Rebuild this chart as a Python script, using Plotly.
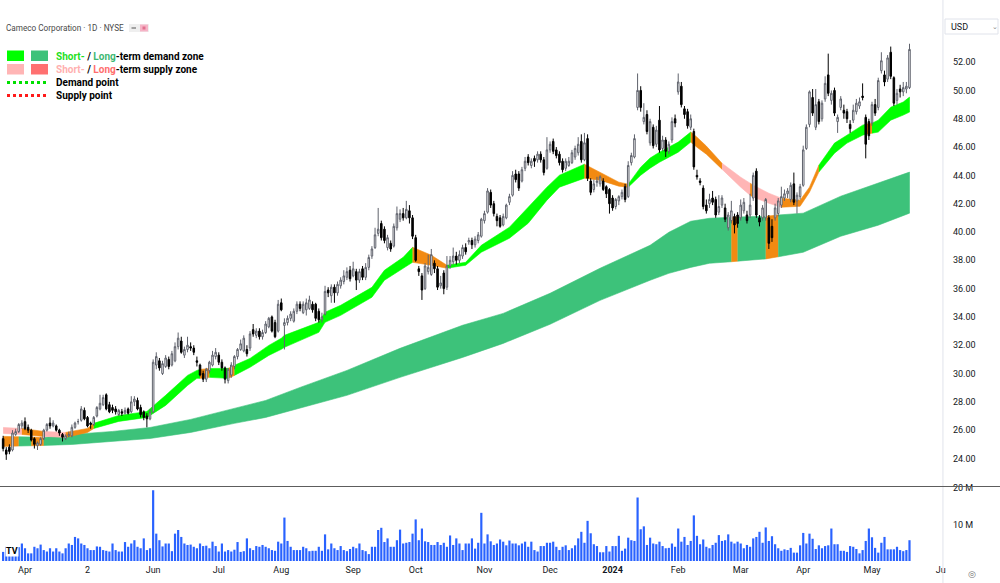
import plotly.graph_objects as go
import pandas as pd

# ---------------- data ----------------
HOLIDAYS = ["2023-04-07", "2023-05-29", "2023-06-19", "2023-07-04", "2023-09-04",
            "2023-11-23", "2023-12-25", "2024-01-01", "2024-01-15", "2024-02-19", "2024-03-29"]
DATES = [d.strftime("%Y-%m-%d") for d in pd.bdate_range("2023-03-23", "2024-05-17")
         if d.strftime("%Y-%m-%d") not in HOLIDAYS]

OPEN = [
    25.4, 24.6, 24.8, 24.6, 25.7, 25.9, 26.3, 26.6, 26.2, 26.0,
    25.4, 24.9, 25.0, 25.4, 26.0, 26.5, 26.3, 26.3, 26.0, 25.7,
    25.4, 25.6, 25.6, 26.2, 26.6, 26.7, 27.4, 26.9, 26.5, 26.4,
    27.0, 27.5, 27.8, 28.5, 27.8, 27.6, 27.5, 27.1, 27.3, 27.2,
    27.5, 27.3, 28.0, 28.1, 27.6, 27.3, 27.0, 26.8, 27.3, 30.6,
    30.9, 30.0, 30.5, 31.0, 30.6, 30.9, 31.9, 32.3, 31.3, 31.7,
    31.9, 31.8, 30.9, 30.6, 30.0, 29.6, 30.2, 30.6, 31.2, 31.3,
    30.8, 30.4, 29.5, 29.9, 30.5, 31.2, 31.7, 31.6, 31.7, 31.8,
    33.1, 32.7, 33.0, 32.6, 32.9, 33.3, 34.0, 33.6, 33.0, 35.0,
    33.4, 33.6, 33.9, 33.7, 34.4, 34.9, 34.3, 34.5, 34.6, 34.9,
    34.9, 34.4, 33.8, 34.2, 35.9, 35.5, 36.1, 35.7, 36.2, 36.5,
    36.8, 37.3, 36.9, 37.2, 36.6, 37.4, 36.8, 37.5, 38.3, 38.9,
    39.9, 40.6, 40.2, 38.9, 39.2, 39.0, 40.3, 40.9, 41.3, 41.0,
    41.5, 41.0, 39.6, 37.4, 36.9, 36.0, 37.2, 37.0, 37.8, 37.4,
    36.2, 37.1, 36.1, 37.6, 37.9, 38.3, 38.0, 38.3, 38.9, 39.3,
    39.4, 39.1, 39.4, 39.7, 40.8, 41.4, 42.8, 42.0, 41.1, 41.0,
    40.5, 41.0, 42.1, 42.6, 44.1, 44.1, 43.6, 44.5, 45.3, 44.7,
    45.2, 45.1, 45.5, 45.1, 44.5, 45.8, 46.4, 45.8, 45.5, 45.0,
    44.5, 44.7, 44.9, 45.3, 45.6, 46.4, 45.1, 46.6, 43.6, 43.0,
    43.5, 43.4, 43.6, 43.2, 43.0, 42.4, 41.8, 42.2, 42.5, 43.2,
    42.5, 44.9, 45.3, 48.8, 50.0, 47.8, 48.3, 46.3, 47.4, 46.2,
    47.9, 45.9, 46.5, 45.7, 46.5, 48.0, 49.9, 50.3, 48.7, 48.5,
    47.4, 47.1, 44.0, 43.6, 43.1, 41.9, 42.0, 42.4, 42.3, 41.4,
    41.9, 41.7, 40.3, 40.8, 41.1, 41.2, 41.0, 41.5, 41.2, 41.2,
    42.4, 44.3, 41.0, 41.0, 41.0, 41.0, 40.4, 41.0, 41.3, 41.9,
    42.4, 42.7, 42.3, 43.4, 42.2, 42.5, 43.3, 45.9, 47.6, 49.5,
    47.4, 49.2, 48.0, 49.4, 51.1, 49.3, 50.0, 47.8, 48.8, 48.6,
    48.5, 47.6, 47.9, 48.5, 48.9, 49.6, 48.1, 47.8, 47.7, 49.0,
    48.8, 51.4, 51.1, 50.8, 52.7, 50.9, 49.3, 50.1, 49.9, 50.1, 50.2,
]
HIGH = [
    25.6, 24.8, 25.0, 26.0, 26.1, 26.5, 26.7, 26.9, 26.4, 26.1,
    25.5, 25.2, 25.5, 26.1, 26.5, 26.9, 26.7, 26.4, 26.1, 25.8,
    25.7, 25.9, 26.4, 26.6, 26.8, 27.7, 27.6, 27.0, 26.6, 27.0,
    27.7, 28.5, 28.5, 28.6, 28.0, 27.8, 27.7, 27.5, 27.5, 27.6,
    27.6, 28.4, 28.4, 28.3, 27.8, 27.4, 27.2, 27.5, 31.0, 31.5,
    31.1, 30.9, 31.3, 31.2, 31.6, 32.2, 32.9, 32.6, 31.9, 32.6,
    32.2, 32.0, 31.2, 30.7, 30.2, 30.4, 30.9, 31.6, 31.8, 31.5,
    31.0, 30.5, 30.4, 30.8, 31.3, 31.8, 32.4, 32.7, 32.0, 33.0,
    33.5, 33.2, 33.2, 33.1, 33.7, 34.0, 34.1, 33.8, 35.2, 35.3,
    33.9, 34.1, 34.4, 34.6, 35.1, 35.1, 35.1, 35.3, 35.5, 35.1,
    35.0, 34.6, 34.3, 36.2, 36.1, 36.3, 36.3, 36.5, 36.8, 37.3,
    37.5, 37.6, 37.9, 37.4, 37.4, 37.6, 37.8, 38.4, 39.0, 40.3,
    41.7, 40.8, 40.4, 39.8, 39.4, 40.6, 41.8, 41.6, 41.7, 42.2,
    41.9, 41.2, 39.8, 37.6, 37.1, 37.8, 38.4, 38.8, 38.0, 37.6,
    36.9, 37.3, 38.3, 38.3, 38.9, 38.6, 38.7, 39.1, 39.2, 39.6,
    39.6, 39.7, 40.0, 41.0, 41.5, 43.1, 43.0, 42.2, 41.3, 41.2,
    41.3, 42.0, 42.7, 44.3, 44.4, 44.3, 44.6, 45.3, 45.5, 45.2,
    45.4, 45.7, 45.7, 45.3, 46.7, 46.4, 46.6, 46.0, 45.7, 45.2,
    45.2, 45.3, 45.8, 46.1, 46.7, 46.9, 47.0, 46.9, 43.8, 43.7,
    43.9, 44.0, 43.8, 43.3, 43.1, 42.6, 42.4, 42.6, 43.0, 43.4,
    45.0, 45.6, 46.9, 51.2, 50.3, 49.1, 48.6, 48.0, 47.6, 47.5,
    48.9, 46.8, 46.7, 46.4, 48.1, 48.3, 51.2, 50.6, 48.9, 48.7,
    48.3, 47.3, 44.4, 43.8, 43.3, 42.3, 42.7, 42.9, 42.5, 42.6,
    42.6, 42.0, 41.4, 42.2, 41.3, 41.4, 42.3, 42.4, 41.5, 42.7,
    44.2, 44.5, 41.2, 41.9, 42.4, 41.2, 40.9, 42.0, 42.4, 43.2,
    43.0, 43.1, 43.5, 44.2, 42.8, 43.4, 46.1, 47.6, 50.0, 50.1,
    50.1, 49.4, 49.3, 51.0, 52.6, 50.0, 50.2, 48.3, 49.6, 49.0,
    48.7, 47.9, 49.0, 49.4, 49.5, 50.5, 48.3, 48.0, 49.2, 49.4,
    50.9, 52.7, 51.4, 52.5, 53.1, 51.0, 50.1, 50.4, 50.6, 50.6, 53.3,
]
LOW = [
    24.5, 23.9, 24.3, 24.5, 25.6, 25.8, 26.1, 26.0, 25.8, 25.2,
    24.7, 24.6, 24.9, 25.3, 25.9, 26.1, 26.2, 25.9, 25.6, 25.2,
    25.3, 25.5, 25.5, 26.1, 26.4, 26.6, 26.7, 26.2, 26.1, 26.3,
    26.9, 27.4, 27.7, 27.4, 27.2, 27.2, 27.1, 27.0, 27.0, 27.1,
    27.1, 27.2, 27.7, 27.4, 26.9, 26.7, 26.2, 26.7, 27.2, 30.3,
    30.2, 29.9, 30.4, 30.3, 30.5, 30.8, 31.7, 31.4, 31.1, 31.5,
    31.6, 31.3, 30.5, 29.8, 29.4, 29.4, 30.0, 30.5, 31.0, 30.6,
    30.2, 29.3, 29.3, 29.7, 30.3, 31.0, 31.6, 31.5, 31.2, 31.6,
    32.6, 32.5, 32.4, 32.4, 32.8, 33.2, 32.9, 32.5, 32.9, 34.4,
    31.7, 33.4, 33.7, 33.6, 34.2, 34.4, 34.2, 34.1, 34.5, 34.3,
    33.7, 33.6, 33.6, 34.1, 35.4, 35.0, 35.0, 35.5, 36.0, 36.3,
    36.6, 36.5, 36.8, 35.9, 36.4, 36.6, 36.6, 37.3, 38.1, 38.8,
    39.7, 39.4, 39.2, 38.7, 38.6, 38.9, 40.1, 40.7, 40.8, 40.9,
    40.6, 39.5, 37.9, 36.9, 35.2, 35.9, 37.0, 36.9, 37.1, 35.9,
    36.0, 35.6, 35.9, 37.4, 37.7, 37.7, 37.8, 38.1, 38.4, 39.1,
    38.8, 38.9, 39.2, 39.6, 40.6, 41.3, 41.7, 41.1, 40.4, 40.3,
    40.4, 40.9, 41.9, 42.5, 43.5, 42.9, 43.5, 44.3, 44.7, 44.5,
    44.6, 44.9, 44.9, 44.0, 44.4, 45.6, 45.5, 45.2, 44.7, 44.2,
    44.3, 44.6, 44.8, 45.1, 45.4, 44.9, 45.0, 43.6, 42.6, 42.8,
    43.2, 43.2, 42.9, 42.4, 41.3, 41.5, 41.6, 41.9, 42.3, 42.1,
    42.4, 44.7, 45.2, 48.6, 48.5, 47.6, 46.9, 46.1, 45.9, 46.0,
    45.6, 45.7, 45.3, 45.5, 46.3, 47.4, 49.7, 48.8, 48.0, 47.3,
    47.2, 44.4, 43.7, 43.3, 41.6, 41.3, 41.7, 41.9, 41.0, 41.2,
    41.7, 40.7, 40.1, 40.6, 39.9, 40.3, 40.8, 41.3, 40.6, 41.0,
    42.2, 41.0, 40.4, 40.8, 40.8, 38.8, 39.3, 40.8, 41.1, 41.7,
    42.2, 42.4, 42.1, 41.9, 41.3, 42.3, 43.2, 45.8, 47.4, 48.2,
    47.2, 47.6, 47.8, 49.2, 49.6, 49.0, 48.2, 47.0, 48.6, 48.0,
    47.7, 47.0, 47.7, 48.3, 48.7, 49.3, 45.2, 46.5, 47.5, 48.2,
    48.6, 51.2, 50.3, 50.6, 50.8, 48.9, 49.0, 49.5, 49.6, 49.8, 50.1,
]
CLOSE = [
    24.7, 24.3, 24.5, 25.8, 25.9, 26.4, 26.5, 26.1, 26.0, 25.3,
    25.0, 25.1, 25.4, 26.0, 26.4, 26.3, 26.5, 26.0, 25.8, 25.5,
    25.6, 25.7, 26.2, 26.5, 26.6, 27.5, 26.8, 26.3, 26.4, 26.9,
    27.6, 27.9, 28.3, 27.5, 27.3, 27.4, 27.3, 27.4, 27.2, 27.4,
    27.2, 28.0, 28.2, 27.5, 27.1, 26.9, 26.8, 27.3, 30.8, 31.2,
    30.4, 30.7, 31.1, 30.5, 31.4, 31.9, 32.5, 31.5, 31.7, 32.0,
    31.8, 31.5, 30.8, 29.9, 29.6, 30.3, 30.8, 31.3, 31.5, 30.8,
    30.4, 29.6, 30.3, 30.6, 31.2, 31.7, 32.1, 32.5, 31.4, 32.8,
    32.8, 33.0, 32.6, 32.9, 33.5, 33.9, 33.0, 32.6, 34.9, 34.5,
    33.6, 33.9, 34.2, 34.4, 34.9, 34.6, 34.9, 35.0, 35.2, 34.5,
    33.9, 33.8, 34.0, 35.8, 35.7, 36.1, 35.7, 36.3, 36.6, 36.9,
    37.2, 36.7, 37.4, 36.6, 37.2, 36.8, 37.5, 38.2, 38.8, 39.8,
    40.2, 39.6, 39.4, 39.6, 38.8, 40.4, 41.3, 41.3, 41.0, 41.6,
    41.0, 39.7, 38.0, 37.2, 35.9, 37.6, 37.5, 38.4, 37.4, 36.1,
    36.4, 36.0, 37.6, 38.0, 38.3, 38.0, 38.4, 38.9, 38.6, 39.4,
    39.1, 39.5, 39.8, 40.9, 41.3, 42.9, 41.9, 41.3, 40.8, 40.4,
    41.1, 41.9, 42.5, 44.0, 43.7, 43.1, 44.4, 45.0, 44.9, 45.0,
    45.0, 45.5, 45.1, 44.2, 45.8, 46.2, 45.7, 45.4, 44.9, 44.4,
    45.0, 45.0, 45.6, 45.9, 46.2, 45.1, 46.3, 43.8, 42.8, 43.4,
    43.6, 43.9, 43.0, 42.7, 42.0, 41.7, 42.3, 42.5, 42.8, 42.3,
    44.7, 45.4, 46.6, 50.0, 48.8, 48.1, 47.1, 47.8, 46.1, 47.2,
    45.8, 46.5, 45.7, 46.2, 47.8, 47.7, 50.6, 49.0, 48.3, 47.5,
    48.0, 44.6, 43.9, 43.5, 41.8, 41.5, 42.3, 42.1, 41.2, 41.8,
    42.4, 40.9, 41.2, 41.5, 40.5, 40.6, 41.9, 42.1, 40.8, 41.9,
    44.0, 41.2, 40.7, 41.7, 42.3, 39.2, 39.6, 41.7, 42.2, 42.5,
    42.7, 42.9, 43.3, 42.1, 42.6, 43.2, 45.8, 47.4, 49.9, 48.4,
    49.0, 47.8, 49.1, 50.5, 49.8, 49.8, 48.4, 48.1, 49.4, 48.4,
    48.0, 47.3, 48.6, 49.1, 49.2, 49.5, 46.2, 46.8, 49.0, 48.4,
    50.7, 52.1, 50.6, 52.3, 51.0, 49.1, 49.8, 49.9, 50.2, 50.3, 52.9,
]
VOLUME_M = [
    2.5, 3.9, 3.0, 3.5, 3.0, 3.8, 4.8, 3.5, 2.1, 2.1,
    3.9, 3.5, 4.5, 3.0, 2.6, 3.5, 2.6, 3.5, 2.6, 2.1,
    3.5, 4.8, 4.4, 6.6, 6.2, 4.8, 4.4, 3.5, 3.0, 3.0,
    4.0, 3.9, 3.0, 2.8, 2.6, 4.8, 3.0, 2.6, 2.6, 5.2,
    3.9, 4.8, 5.7, 3.9, 3.5, 6.2, 3.0, 3.5, 19.4, 7.5,
    5.7, 4.0, 4.8, 4.8, 2.7, 7.5, 8.5, 6.6, 4.8, 4.4,
    4.5, 3.9, 3.5, 4.8, 4.1, 4.2, 3.5, 5.3, 4.1, 2.6,
    4.8, 2.6, 3.0, 2.6, 3.1, 5.2, 2.5, 2.7, 6.2, 3.5,
    3.0, 4.1, 3.9, 4.4, 3.9, 3.5, 3.0, 2.8, 5.3, 4.8,
    11.9, 5.5, 3.9, 3.0, 3.0, 3.0, 3.9, 3.5, 2.7, 2.8,
    2.8, 3.9, 2.8, 7.3, 3.2, 4.8, 3.5, 3.0, 4.1, 3.0,
    2.7, 3.3, 3.9, 3.5, 4.8, 3.0, 2.7, 1.9, 3.9, 3.9,
    8.5, 9.1, 5.2, 6.2, 3.9, 3.9, 5.7, 8.6, 4.8, 5.0,
    5.2, 7.5, 11.4, 5.7, 8.9, 5.4, 5.2, 4.4, 4.4, 5.2,
    4.4, 5.0, 3.9, 7.0, 4.4, 6.2, 4.8, 3.0, 4.8, 4.8,
    6.2, 3.4, 5.0, 13.2, 4.8, 7.3, 5.4, 4.4, 4.8, 5.9,
    5.3, 4.3, 5.6, 4.8, 4.8, 4.3, 4.8, 5.3, 3.9, 5.3,
    3.0, 2.6, 4.1, 4.1, 5.0, 5.0, 5.3, 3.9, 3.0, 3.9,
    4.3, 3.0, 3.5, 4.3, 6.2, 8.0, 5.0, 11.0, 7.6, 4.6,
    4.1, 2.4, 2.4, 4.1, 2.6, 4.1, 4.1, 6.9, 2.8, 3.4,
    6.4, 5.7, 5.5, 17.4, 8.7, 9.5, 4.4, 6.4, 4.8, 4.6,
    5.3, 4.1, 3.5, 3.6, 4.8, 3.9, 8.9, 5.3, 6.6, 4.4,
    5.5, 12.5, 6.9, 4.6, 5.9, 3.9, 3.5, 4.4, 5.0, 7.1,
    5.5, 5.7, 7.3, 5.3, 4.8, 5.3, 4.8, 3.5, 4.4, 3.9,
    6.2, 6.6, 8.0, 5.0, 9.2, 5.5, 6.8, 4.6, 3.5, 2.8,
    3.2, 3.0, 3.6, 2.3, 2.3, 4.3, 7.7, 4.8, 7.5, 6.1,
    3.3, 4.3, 3.5, 4.1, 4.3, 8.9, 4.6, 4.6, 2.8, 2.8,
    2.5, 4.1, 3.9, 3.3, 2.1, 3.0, 5.5, 8.9, 6.5, 3.6,
    2.3, 5.0, 6.6, 3.2, 3.2, 3.2, 3.9, 3.0, 2.7, 3.0, 5.7,
]

# Short-term zone (trading-day index, upper, lower) and its colour runs
ST_IDX = [0, 6, 13, 20, 22, 27, 29, 37, 44, 46, 52, 59, 62, 63, 66, 68, 72, 74, 79, 85,
          89, 90, 101, 103, 108, 118, 122, 128, 131, 137, 142, 148, 153, 162, 168, 174, 178,
          186, 191, 197, 200, 204, 207, 210, 216, 220, 222, 225, 230, 236, 239, 240, 245,
          249, 255, 258, 261, 266, 270, 275, 276, 278, 280, 284, 288, 290]
ST_UP = [26.19, 26.12, 25.91, 25.84, 25.91, 26.12, 26.48, 27.04, 27.25, 27.32, 28.46, 29.87,
         30.22, 30.29, 30.36, 30.36, 30.36, 30.58, 31.07, 31.99, 32.49, 32.70, 33.62, 34.33,
         34.82, 36.09, 37.30, 38.21, 38.92, 38.36, 37.65, 37.86, 39.06, 40.34, 41.75, 43.17,
         44.01, 44.79, 44.23, 43.52, 43.38, 44.58, 45.22, 45.64, 46.35, 47.06, 46.70, 46.07,
         44.86, 43.87, 43.45, 43.31, 42.74, 42.39, 42.25, 43.17, 44.72, 46.28, 46.84, 47.55,
         47.62, 47.69, 47.90, 48.82, 49.18, 49.53]
ST_LO = [25.77, 25.70, 25.56, 25.49, 25.56, 25.84, 26.12, 26.62, 26.83, 26.90, 27.75, 29.16,
         29.66, 29.66, 29.73, 29.73, 29.66, 29.87, 30.44, 31.28, 31.71, 31.85, 32.91, 33.62,
         34.11, 35.39, 36.59, 37.44, 37.86, 37.65, 37.44, 37.65, 38.57, 39.56, 40.62, 42.25,
         43.17, 43.80, 43.66, 43.24, 43.17, 44.01, 44.51, 44.93, 45.64, 46.35, 45.99, 45.50,
         44.44, 43.17, 42.60, 42.46, 42.03, 41.75, 41.82, 42.81, 44.23, 45.57, 46.28, 46.84,
         46.91, 46.98, 47.06, 47.90, 48.26, 48.47]
ST_RUNS = [(0, 6, "st_supply"), (6, 13, "orange"), (13, 20, "st_supply"), (20, 29, "orange"),
           (29, 63, "st_demand"), (63, 66, "orange"), (66, 72, "st_demand"), (72, 74, "orange"),
           (74, 131, "st_demand"), (131, 142, "orange"), (142, 186, "st_demand"),
           (186, 200, "orange"), (200, 220, "st_demand"), (220, 230, "orange"),
           (230, 239, "st_supply"), (239, 240, "orange"), (240, 249, "st_supply"),
           (249, 261, "orange"), (261, 276, "st_demand"), (276, 278, "orange"),
           (278, 290, "st_demand")]

# Long-term zone
LT_IDX = [0, 5, 9, 13, 22, 35, 47, 60, 74, 84, 95, 110, 127, 147, 160, 175, 191, 207, 213,
          220, 226, 233, 235, 244, 248, 256, 268, 280, 290]
LT_UP = [25.56, 25.53, 25.51, 25.49, 25.70, 25.91, 26.19, 26.76, 27.54, 28.10, 29.02, 30.22,
         31.78, 33.41, 34.25, 35.67, 37.44, 39.06, 39.98, 40.76, 40.97, 41.04, 41.06, 41.11,
         41.20, 41.33, 42.53, 43.45, 44.23]
LT_LO = [24.85, 24.88, 24.90, 24.92, 24.99, 25.20, 25.41, 25.84, 26.48, 26.90, 27.54, 28.46,
         29.73, 31.14, 32.13, 33.48, 35.17, 36.59, 37.08, 37.50, 37.79, 37.90, 37.94, 38.10,
         38.25, 38.57, 39.70, 40.48, 41.33]
LT_RUNS = [(0, 5, "orange"), (5, 9, "lt_demand"), (9, 13, "orange"), (13, 233, "lt_demand"),
           (233, 235, "orange"), (235, 244, "lt_demand"), (244, 248, "orange"),
           (248, 290, "lt_demand")]

TICK_DATES = ["2023-04-03", "2023-05-02", "2023-06-01", "2023-07-03", "2023-08-01",
              "2023-09-01", "2023-10-02", "2023-11-01", "2023-12-01", "2024-01-02",
              "2024-02-01", "2024-03-01", "2024-04-01", "2024-05-01"]
TICK_TEXT = ["Apr", "2", "Jun", "Jul", "Aug", "Sep", "Oct", "Nov", "Dec", "<b>2024</b>",
             "Feb", "Mar", "Apr", "May", "Ju"]
FUTURE_TICK_OFFSET = 9   # trading days after the last bar (Jun 3, 2024)
PRICE_TICKS = [24, 26, 28, 30, 32, 34, 36, 38, 40, 42, 44, 46, 48, 50, 52]

COL = {"st_demand": "#00FF00", "lt_demand": "#3DC27A", "st_supply": "#FFB5B5",
       "lt_supply": "#FF7070", "orange": "#F28A12"}

# ---------------- figure ----------------
n = min(len(DATES), len(OPEN), len(HIGH), len(LOW), len(CLOSE), len(VOLUME_M))
X = list(range(n))
PW, PH = 942.0, 563.0


def px(v):
    return v / PW


def py(v):
    return (PH - v) / PH


def band(idx, up, lo, a, b):
    sel = [k for k, v in enumerate(idx) if a <= v <= b]
    xs = [idx[k] for k in sel]
    ys = [up[k] for k in sel] + [lo[k] for k in sel][::-1]
    return xs + xs[::-1], ys


fig = go.Figure()
for idx, up, lo, runs in ((LT_IDX, LT_UP, LT_LO, LT_RUNS), (ST_IDX, ST_UP, ST_LO, ST_RUNS)):
    for a, b, c in runs:
        bx, by = band(idx, up, lo, a, b)
        fig.add_trace(go.Scatter(x=bx, y=by, mode="lines", fill="toself",
                                 fillcolor=COL[c], line=dict(color=COL[c], width=0.6),
                                 hoverinfo="skip", showlegend=False, xaxis="x", yaxis="y"))

fig.add_trace(go.Candlestick(
    x=X, open=OPEN[:n], high=HIGH[:n], low=LOW[:n], close=CLOSE[:n],
    xaxis="x", yaxis="y3", whiskerwidth=0, showlegend=False,
    increasing=dict(line=dict(color="#5f626c", width=1), fillcolor="#FFFFFF"),
    decreasing=dict(line=dict(color="#000000", width=1), fillcolor="#000000")))

fig.add_trace(go.Bar(x=X, y=VOLUME_M[:n], xaxis="x", yaxis="y2", marker_color="#2962FF",
                     marker_line_width=0, showlegend=False))

tickpos = [DATES.index(d) for d in TICK_DATES] + [n + FUTURE_TICK_OFFSET]

y_range = [24 - 28 / 14.14, 24 + 458 / 14.14]
price_dom = [py(486.5), 1]
font_axis = dict(family="Roboto", size=9, color="#131722")

fig.update_layout(
    width=1000, height=583, margin=dict(l=0, r=58, t=0, b=20, pad=0),
    paper_bgcolor="white", plot_bgcolor="white", bargap=0.3, showlegend=False,
    xaxis=dict(domain=[0, 1], range=[-1, 300.4], anchor="y2", showgrid=False, zeroline=False,
               tickvals=tickpos, ticktext=TICK_TEXT, ticks="", tickfont=font_axis,
               rangeslider=dict(visible=False), showline=False, automargin=False),
    yaxis=dict(domain=price_dom, range=y_range, side="right", showgrid=False, zeroline=False,
               tickvals=PRICE_TICKS, ticktext=["%.2f" % v for v in PRICE_TICKS],
               tickfont=font_axis, ticks="", ticklabelstandoff=10, anchor="x",
               automargin=False),
    yaxis3=dict(domain=price_dom, range=y_range, overlaying="y", visible=False, anchor="x"),
    yaxis2=dict(domain=[0, py(487.5)], range=[-2 / 3.7, 74.5 / 3.7], side="right",
                showgrid=False, zeroline=False, tickvals=[10, 20], ticktext=["10 M", "20 M"],
                tickfont=font_axis, ticks="", ticklabelstandoff=10, anchor="x",
                automargin=False),
)

shapes = [
    # pane separators
    dict(type="line", xref="paper", yref="paper", x0=1.001, x1=1.001, y0=py(583), y1=1,
         line=dict(color="#E0E3EB", width=1)),
    dict(type="line", xref="paper", yref="paper", x0=0, x1=px(1000), y0=py(486.5), y1=py(486.5),
         line=dict(color="#5D5D5D", width=1)),
    # USD box
    dict(type="rect", xref="paper", yref="paper", x0=px(945), x1=px(998), y0=py(34), y1=py(19),
         fillcolor="white", line=dict(color="#E0E3EB", width=1)),
    # header pill
    dict(type="rect", xref="paper", yref="paper", x0=px(129), x1=px(149), y0=py(32), y1=py(24),
         fillcolor="#EFEFEF", line=dict(width=0)),
    dict(type="line", xref="paper", yref="paper", x0=px(131.5), x1=px(136), y0=py(28), y1=py(28),
         line=dict(color="#888888", width=1.5)),
    dict(type="rect", xref="paper", yref="paper", x0=px(140), x1=px(148), y0=py(31.5), y1=py(24.5),
         fillcolor="#F6B3C6", line=dict(width=0)),
    dict(type="rect", xref="paper", yref="paper", x0=px(142.5), x1=px(145.5), y0=py(29.5), y1=py(26.5),
         fillcolor="#E0708F", line=dict(width=0)),
    # legend squares
    dict(type="rect", xref="paper", yref="paper", x0=px(7), x1=px(24), y0=py(61), y1=py(50.5),
         fillcolor=COL["st_demand"], line=dict(width=0)),
    dict(type="rect", xref="paper", yref="paper", x0=px(31), x1=px(48), y0=py(61), y1=py(50.5),
         fillcolor=COL["lt_demand"], line=dict(width=0)),
    dict(type="rect", xref="paper", yref="paper", x0=px(7), x1=px(24), y0=py(74.5), y1=py(64),
         fillcolor=COL["st_supply"], line=dict(width=0)),
    dict(type="rect", xref="paper", yref="paper", x0=px(31), x1=px(48), y0=py(74.5), y1=py(64),
         fillcolor=COL["lt_supply"], line=dict(width=0)),
    dict(type="line", xref="paper", yref="paper", x0=px(7), x1=px(47), y0=py(82.5), y1=py(82.5),
         line=dict(color="#00E000", width=3, dash="dot")),
    dict(type="line", xref="paper", yref="paper", x0=px(7), x1=px(47), y0=py(95.5), y1=py(95.5),
         line=dict(color="#FF1A1A", width=3, dash="dot")),
]
fig.update_layout(shapes=shapes)

lf = dict(family="Roboto", size=10, color="#000000")
ann = [
    dict(x=px(4), y=py(28), text="Cameco Corporation · 1D · NYSE",
         font=dict(family="Roboto", size=8.2, color="#4A4A4A")),
    dict(x=px(54), y=py(56), font=lf,
         text="<b><span style='color:#1FE01F'>Short-</span> / "
              "<span style='color:#3DB872'>Long</span>-term demand zone</b>"),
    dict(x=px(54), y=py(69.5), font=lf,
         text="<b><span style='color:#FFB0B0'>Short-</span> / "
              "<span style='color:#FF6E6E'>Long</span>-term supply zone</b>"),
    dict(x=px(54), y=py(82.5), font=lf, text="<b>Demand point</b>"),
    dict(x=px(54), y=py(95.5), font=lf, text="<b>Supply point</b>"),
    dict(x=px(949), y=py(27), text="USD", font=dict(family="Roboto", size=9, color="#131722")),
    dict(x=px(990), y=py(27), text="⌄", font=dict(family="DejaVu Sans", size=7, color="#888888")),
    dict(x=px(966), y=py(574), text="◎", font=dict(family="DejaVu Sans", size=9, color="#777777")),
    dict(x=px(5), y=py(551), text="<b>TV</b>", bgcolor="white",
         font=dict(family="Roboto", size=9, color="#000000"), borderpad=0),
]
if n != len(DATES) or n != 291:
    ann.append(dict(x=0.5, y=0.5, text="LEN MISMATCH %d %d %d %d %d %d %d" % (
        len(DATES), len(OPEN), len(HIGH), len(LOW), len(CLOSE), len(VOLUME_M), n),
        font=dict(size=20, color="red")))
for a in ann:
    a.setdefault("xref", "paper")
    a.setdefault("yref", "paper")
    a.setdefault("xanchor", "left")
    a.setdefault("yanchor", "middle")
    a.setdefault("showarrow", False)
fig.update_layout(annotations=ann)

fig.write_html("out.html", config={"displayModeBar": False})
